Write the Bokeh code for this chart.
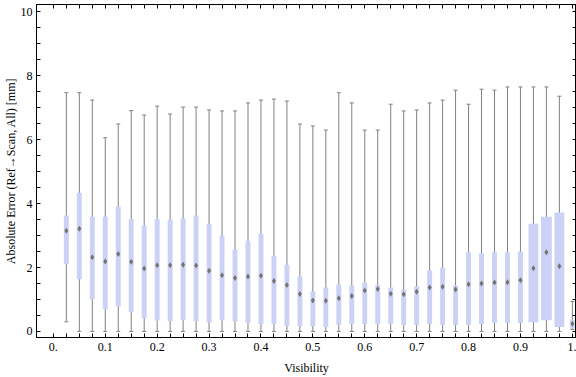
from bokeh.plotting import figure
from bokeh.models import LinearAxis, FixedTicker, Range1d, ColumnDataSource
from bokeh.embed import file_html
from bokeh.resources import INLINE

# ---- data ----
visibility = [0.025, 0.05, 0.075, 0.1, 0.125, 0.15, 0.175, 0.2, 0.225, 0.25,
              0.275, 0.3, 0.325, 0.35, 0.375, 0.4, 0.425, 0.45, 0.475, 0.5,
              0.525, 0.55, 0.575, 0.6, 0.625, 0.65, 0.675, 0.7, 0.725, 0.75,
              0.775, 0.8, 0.825, 0.85, 0.875, 0.9, 0.925, 0.95, 0.975, 1.0]
whisker_low = [0.30, 0, 0, 0, 0, 0, 0, 0, 0, 0,
               0, 0, 0, 0, 0, 0, 0, 0, 0, 0,
               0, 0, 0, 0, 0, 0, 0, 0, 0, 0,
               0, 0, 0, 0, 0, 0, 0, 0, 0, 0.06]
q1 = [2.10, 1.63, 1.01, 0.70, 0.78, 0.60, 0.42, 0.34, 0.32, 0.35,
      0.33, 0.29, 0.35, 0.32, 0.26, 0.23, 0.23, 0.17, 0.17, 0.17,
      0.14, 0.20, 0.23, 0.23, 0.23, 0.23, 0.20, 0.20, 0.23, 0.20,
      0.20, 0.20, 0.23, 0.26, 0.26, 0.26, 0.29, 0.35, 0.14, 0.09]
median = [3.15, 3.21, 2.32, 2.19, 2.42, 2.18, 1.97, 2.07, 2.07, 2.09,
          2.06, 1.90, 1.76, 1.67, 1.72, 1.74, 1.58, 1.45, 1.17, 0.97,
          0.96, 1.04, 1.11, 1.28, 1.33, 1.18, 1.16, 1.24, 1.375, 1.40,
          1.31, 1.48, 1.50, 1.53, 1.54, 1.60, 1.98, 2.48, 2.04, 0.24]
q3 = [3.63, 4.34, 3.59, 3.59, 3.91, 3.52, 3.31, 3.52, 3.50, 3.53,
      3.63, 3.37, 3.00, 2.56, 2.84, 3.06, 2.37, 2.09, 1.72, 1.25,
      1.375, 1.47, 1.44, 1.53, 1.46, 1.375, 1.31, 1.41, 1.91, 2.00,
      1.44, 2.48, 2.45, 2.48, 2.48, 2.50, 3.37, 3.59, 3.72, 0.37]
whisker_high = [7.47, 7.47, 7.24, 6.06, 6.49, 6.91, 6.77, 7.05, 6.80, 7.02,
                7.02, 6.93, 6.90, 6.90, 7.15, 7.24, 7.27, 7.21, 6.49, 6.43,
                6.30, 7.47, 7.15, 6.30, 6.30, 7.11, 6.90, 6.93, 7.15, 7.24,
                7.55, 7.11, 7.58, 7.55, 7.65, 7.65, 7.65, 7.65, 7.36, 0.94]

x_tick_values = [0.0, 0.1, 0.2, 0.3, 0.4, 0.5, 0.6, 0.7, 0.8, 0.9, 1.0]
x_tick_labels = ["0.", "0.1", "0.2", "0.3", "0.4", "0.5", "0.6", "0.7", "0.8", "0.9", "1."]
x_minor_values = [0.025, 0.05, 0.075, 0.125, 0.15, 0.175, 0.225, 0.25, 0.275,
                  0.325, 0.35, 0.375, 0.425, 0.45, 0.475, 0.525, 0.55, 0.575,
                  0.625, 0.65, 0.675, 0.725, 0.75, 0.775, 0.825, 0.85, 0.875,
                  0.925, 0.95, 0.975]
y_tick_values = [0, 2, 4, 6, 8, 10]
y_tick_labels = ["0", "2", "4", "6", "8", "10"]
y_minor_values = [0.5, 1, 1.5, 2.5, 3, 3.5, 4.5, 5, 5.5, 6.5, 7, 7.5, 8.5, 9, 9.5]

# ---- styles ----
BOX_COLOR = "#cbd2f5"
WHISKER_COLOR = "#808080"
MEDIAN_COLOR = "#737373"
FONT = "Liberation Serif"
box_widths = [0.0095] * 36 + [0.019, 0.021, 0.019] + [0.0085]

src = ColumnDataSource(dict(x=visibility, lo=whisker_low, q1=q1, med=median,
                            q3=q3, hi=whisker_high, w=box_widths))

p = figure(width=576, height=377,
           x_range=Range1d(-0.0325, 1.008), y_range=Range1d(-0.19, 10.23),
           output_backend="svg", toolbar_location=None,
           min_border_left=0, min_border_right=0, min_border_top=4,
           min_border_bottom=0, x_axis_label="Visibility",
           y_axis_label="Absolute Error (Ref\u2192Scan, All) [mm]")
p.background_fill_color = "white"
p.border_fill_color = "white"
p.outline_line_color = "black"
p.xgrid.visible = False
p.ygrid.visible = False

p.segment(x0="x", y0="lo", x1="x", y1="hi", source=src,
          line_color=WHISKER_COLOR, line_width=1)
p.scatter(x="x", y="hi", source=src, marker="dash", size=4,
          line_color=WHISKER_COLOR, line_width=1)
p.scatter(x="x", y="lo", source=src, marker="dash", size=4,
          line_color=WHISKER_COLOR, line_width=1)
p.vbar(x="x", width="w", bottom="q1", top="q3", source=src,
       fill_color=BOX_COLOR, line_color=None)
p.scatter(x="x", y="med", source=src, marker="diamond", size=6,
          fill_color=MEDIAN_COLOR, line_color=None)

xt = FixedTicker(ticks=x_tick_values, minor_ticks=x_minor_values)
yt = FixedTicker(ticks=y_tick_values, minor_ticks=y_minor_values)
x_over = {v: s for v, s in zip(x_tick_values, x_tick_labels)}
y_over = {v: s for v, s in zip(y_tick_values, y_tick_labels)}


def style(ax):
    ax.axis_line_color = "black"
    ax.major_tick_line_color = "black"
    ax.minor_tick_line_color = "black"
    ax.major_tick_in = 4
    ax.major_tick_out = 0
    ax.minor_tick_in = 4
    ax.minor_tick_out = 0
    ax.major_label_text_font = FONT
    ax.major_label_text_font_size = "12px"
    ax.major_label_text_color = "black"
    ax.axis_label_text_font = FONT
    ax.axis_label_text_font_size = "12px"
    ax.axis_label_text_font_style = "normal"
    ax.axis_label_text_color = "black"


xa = p.xaxis[0]
xa.ticker = xt
xa.major_label_overrides = x_over
style(xa)
xa.major_label_standoff = 5
xa.axis_label_standoff = 7

ya = p.yaxis[0]
ya.ticker = yt
ya.major_label_overrides = y_over
style(ya)
ya.major_label_standoff = 4
ya.axis_label_standoff = 0

top = LinearAxis(ticker=xt)
style(top)
top.major_label_text_color = None
top.major_label_standoff = 0
top.major_label_overrides = {v: "" for v in x_tick_values}
p.add_layout(top, "above")

right = LinearAxis(ticker=yt)
style(right)
right.major_label_text_color = None
right.major_label_standoff = 0
right.major_label_overrides = {v: "" for v in y_tick_values}
p.add_layout(right, "right")

open("out.html", "w").write(file_html(p, INLINE))
